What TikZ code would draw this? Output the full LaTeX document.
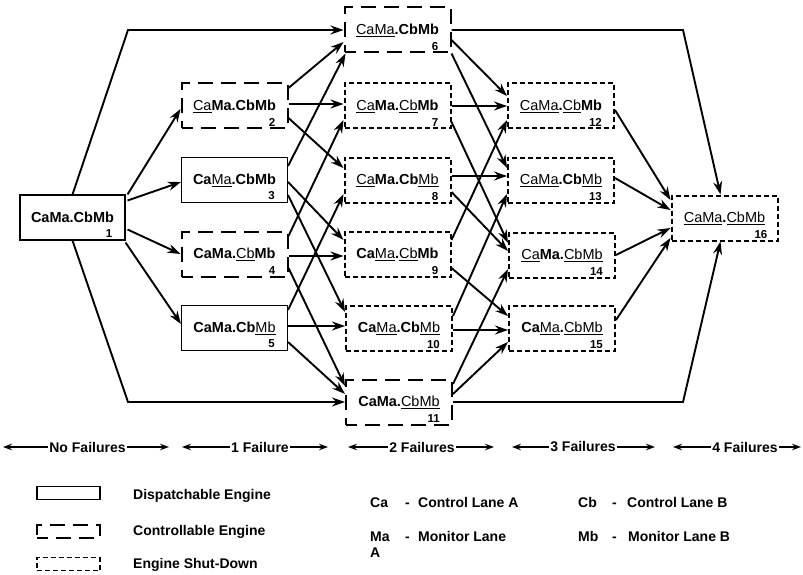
\documentclass[tikz,border=0pt]{standalone}
\usepackage{fontspec}
\setmainfont{Liberation Sans}
\usetikzlibrary{arrows.meta,calc}
\newcommand{\Fl}[1]{\underline{\mdseries #1}}
\begin{document}
\begin{tikzpicture}[x=1pt,y=-1pt,
 eng/.style={minimum width=106pt, minimum height=45pt, inner sep=0pt, font=\fontsize{14.5}{16}\selectfont\bfseries},
 disp/.style={eng, draw, line width=1.1pt},
 ctrl/.style={eng, draw, line width=2pt, dash pattern=on 15pt off 8pt, dash phase=4pt},
 shut/.style={eng, draw, line width=2pt, dash pattern=on 5pt off 3pt},
 num/.style={anchor=south east, font=\fontsize{11.5}{12}\selectfont\bfseries, inner sep=1pt, xshift=-12pt, yshift=2pt},
 conn/.style={line width=1.9pt, -{Stealth[length=13pt,width=9pt]}},
 farr/.style={line width=1.5pt, -{Stealth[length=9pt,width=6.5pt]}},
 ftext/.style={font=\fontsize{14}{16}\selectfont\bfseries, inner sep=1.5pt},
 ltext/.style={font=\fontsize{14}{16}\selectfont\bfseries, inner sep=0pt, anchor=base west},
 lbox/.style={minimum width=63pt, minimum height=13pt, inner sep=0pt},
]
\fill[white] (0,0) rectangle (803,575);
\useasboundingbox (0,0) rectangle (803,575);

% engine states
\node[disp, minimum width=105pt, minimum height=45pt, label={[num]south east:1}] (n1) at (72.5,217.5) {CaMa.CbMb};
\node[ctrl, label={[num]south east:2}] (n2) at (234.5,106) {\Fl{Ca}Ma.CbMb};
\node[disp, label={[num]south east:3}] (n3) at (234.5,180) {Ca\Fl{Ma}.CbMb};
\node[ctrl, label={[num]south east:4}] (n4) at (234.5,254) {CaMa.\Fl{Cb}Mb};
\node[disp, label={[num]south east:5}] (n5) at (234.5,328) {CaMa.Cb\Fl{Mb}};
\node[ctrl, label={[num]south east:6}] (n6) at (397.5,30) {\Fl{CaMa}.CbMb};
\node[shut, label={[num]south east:7}] (n7) at (397.5,106) {\Fl{Ca}Ma.\Fl{Cb}Mb};
\node[shut, label={[num]south east:8}] (n8) at (397.5,180) {\Fl{Ca}Ma.Cb\Fl{Mb}};
\node[shut, label={[num]south east:9}] (n9) at (397.5,254) {Ca\Fl{Ma}.\Fl{Cb}Mb};
\node[shut, label={[num]south east:10}] (n10) at (399,328) {Ca\Fl{Ma}.Cb\Fl{Mb}};
\node[ctrl, label={[num]south east:11}] (n11) at (399,402) {CaMa.\Fl{CbMb}};
\node[shut, label={[num]south east:12}] (n12) at (561,106) {\Fl{CaMa}.\Fl{Cb}Mb};
\node[shut, label={[num]south east:13}] (n13) at (561,180) {\Fl{CaMa}.Cb\Fl{Mb}};
\node[shut, label={[num]south east:14}] (n14) at (562,255) {\Fl{Ca}Ma.\Fl{CbMb}};
\node[shut, label={[num]south east:15}] (n15) at (562,328) {Ca\Fl{Ma}.\Fl{CbMb}};
\node[shut, label={[num,xshift=2pt]south east:16}] (n16) at (724.5,218) {\Fl{CaMa}.\Fl{CbMb}};

% outer paths
\coordinate (t1) at (128,30);
\coordinate (b1) at (128,402);
\coordinate (t2) at (683,30);
\coordinate (b2) at (683,402);
\draw[conn] (n1.north) -- (t1) -- (n6.west);
\draw[conn] (n1.south) -- (b1) -- (n11.west);
\draw[conn] (n6.east) -- (t2) -- ($(n16.north)+(-4,0)$);
\draw[conn] (n11.east) -- (b2) -- ($(n16.south)+(-4,0)$);

% no failure -> 1 failure
\draw[conn] ($(n1.north east)+(2,0)$) -- ($(n2.west)+(0,3)$);
\draw[conn] ($(n1.east)+(2,-17)$) -- ($(n3.west)+(0,2)$);
\draw[conn] ($(n1.east)+(2,12)$) -- ($(n4.west)+(0,0)$);
\draw[conn] ($(n1.south east)+(0,2)$) -- ($(n5.west)+(0,-4)$);

% 1 failure -> 2 failures
\draw[conn] ($(n2.east)+(0,-18)$) -- ($(n6.west)+(0,12)$);
\draw[conn] ($(n2.east)+(0,-2)$) -- ($(n7.west)+(0,-2)$);
\draw[conn] ($(n2.east)+(0,12)$) -- ($(n8.west)+(0,-12)$);
\draw[conn] ($(n3.east)+(0,-14)$) -- ($(n6.south west)+(2,0)$);
\draw[conn] ($(n3.east)+(0,2)$) -- ($(n9.west)+(0,-14)$);
\draw[conn] ($(n3.east)+(0,15)$) -- ($(n10.west)+(0,-16)$);
\draw[conn] ($(n4.east)+(0,-18)$) -- ($(n7.west)+(0,14)$);
\draw[conn] ($(n4.east)+(0,2)$) -- ($(n9.west)+(0,2)$);
\draw[conn] ($(n4.east)+(0,14)$) -- ($(n11.west)+(0,-16)$);
\draw[conn] ($(n5.east)+(0,-18)$) -- ($(n8.west)+(0,14)$);
\draw[conn] ($(n5.east)+(0,-2)$) -- ($(n10.west)+(0,-2)$);
\draw[conn] ($(n5.east)+(0,14)$) -- ($(n11.west)+(0,-8)$);

% 2 failures -> 3 failures
\draw[conn] ($(n6.east)+(0,10)$) -- ($(n12.west)+(0,-10)$);
\draw[conn] ($(n6.south east)+(0,0)$) -- ($(n13.west)+(0,-12)$);
\draw[conn] ($(n7.east)+(0,0)$) -- ($(n12.west)+(0,0)$);
\draw[conn] ($(n7.east)+(0,16)$) -- ($(n14.west)+(0,-12)$);
\draw[conn] ($(n8.east)+(0,-4)$) -- ($(n13.west)+(0,-4)$);
\draw[conn] ($(n8.east)+(0,12)$) -- ($(n14.west)+(0,-4)$);
\draw[conn] ($(n9.east)+(0,-14)$) -- ($(n12.west)+(0,14)$);
\draw[conn] ($(n9.east)+(0,14)$) -- ($(n15.west)+(0,-12)$);
\draw[conn] ($(n10.east)+(0,-12)$) -- ($(n13.west)+(0,14)$);
\draw[conn] ($(n10.east)+(0,2)$) -- ($(n15.west)+(0,2)$);
\draw[conn] ($(n11.east)+(0,-18)$) -- ($(n14.west)+(0,14)$);
\draw[conn] ($(n11.east)+(0,-8)$) -- ($(n15.west)+(0,14)$);

% 3 failures -> 4 failures
\draw[conn] ($(n12.east)+(0,4)$) -- ($(n16.west)+(0,-18)$);
\draw[conn] ($(n13.east)+(0,-2)$) -- ($(n16.west)+(0,-8)$);
\draw[conn] ($(n14.east)+(0,0)$) -- ($(n16.west)+(0,10)$);
\draw[conn] ($(n15.east)+(0,-8)$) -- ($(n16.west)+(0,20)$);

% failure count scale
\node[ftext] (f0) at (87.5,447) {No Failures};
\node[ftext] (f1) at (260,447) {1 Failure};
\node[ftext] (f2) at (422,447) {2 Failures};
\node[ftext] (f3) at (583,447) {3 Failures};
\node[ftext] (f4) at (745,447) {4 Failures};
\coordinate (f0l) at (3,447);   \coordinate (f0r) at (169,447);
\coordinate (f1l) at (182,447); \coordinate (f1r) at (328,447);
\coordinate (f2l) at (348,447); \coordinate (f2r) at (494,447);
\coordinate (f3l) at (512,447); \coordinate (f3r) at (655,447);
\coordinate (f4l) at (673,447); \coordinate (f4r) at (801,447);
\foreach \i in {0,...,4}{
  \draw[farr] (f\i.west) -- (f\i l);
  \draw[farr] (f\i.east) -- (f\i r);
}

% legend
\node[lbox, draw, line width=1.1pt] (lg1) at (68.5,493) {};
\node[lbox, draw, line width=2pt, dash pattern=on 15pt off 8pt, dash phase=4pt] (lg2) at (68.5,531) {};
\node[lbox, draw, line width=1.8pt, dash pattern=on 5pt off 3pt] (lg3) at (68.5,564) {};
\node[ltext] (lt1) at (133,499) {Dispatchable Engine};
\node[ltext] (lt2) at (133,535) {Controllable Engine};
\node[ltext] (lt3) at (133,568) {Engine Shut-Down};

\node[ltext] (ca) at (370,507) {Ca};
\node[ltext] (cad) at (405,507) {-};
\node[ltext] (cat) at (418,507) {Control Lane A};
\node[ltext] (ma) at (370,541) {Ma};
\node[ltext] (mad) at (405,541) {-};
\node[ltext] (mat) at (418,541) {Monitor Lane};
\node[ltext] (maa) at (370,557) {A};
\node[ltext] (cb) at (578,507) {Cb};
\node[ltext] (cbd) at (612,507) {-};
\node[ltext] (cbt) at (627,507) {Control Lane B};
\node[ltext] (mb) at (578,541) {Mb};
\node[ltext] (mbd) at (612,541) {-};
\node[ltext] (mbt) at (628,541) {Monitor Lane B};
\end{tikzpicture}
\end{document}
